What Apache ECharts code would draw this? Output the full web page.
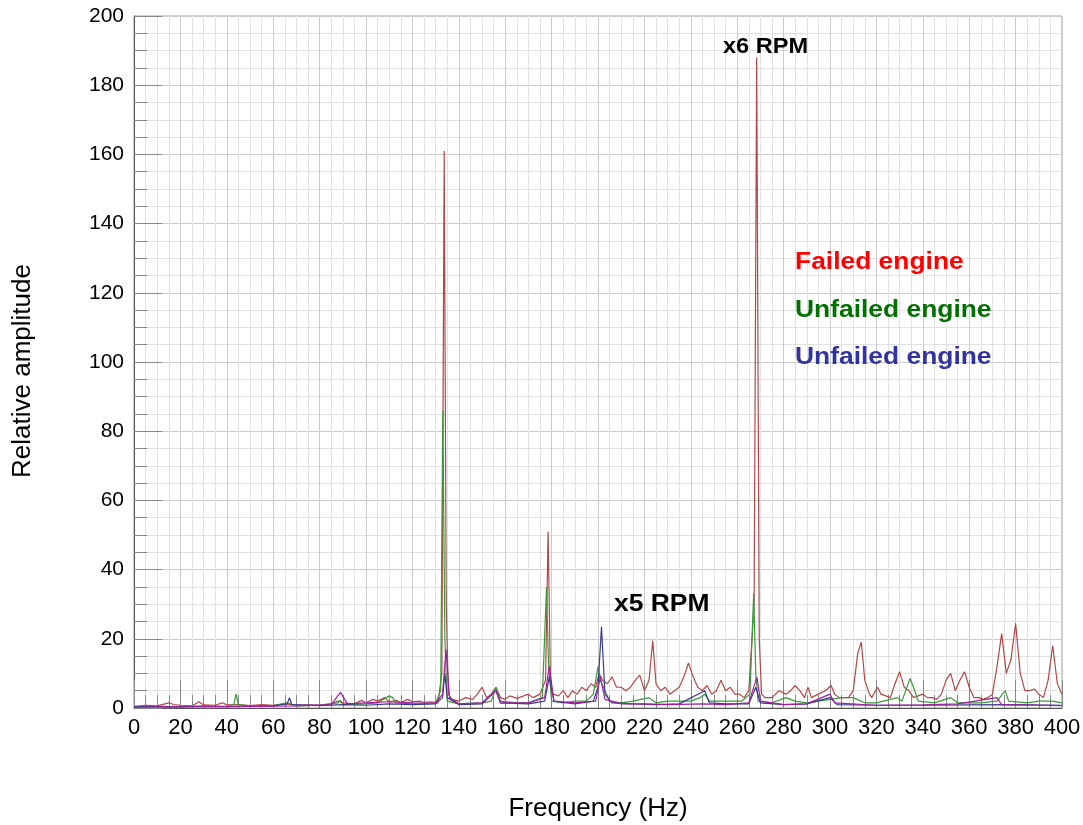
<!DOCTYPE html>
<html>
<head>
<meta charset="utf-8">
<script src="https://cdn.jsdelivr.net/npm/echarts@6/dist/echarts.min.js"></script>
<style>
  html, body { margin: 0; padding: 0; background: #fff; }
  #main { width: 1083px; height: 825px; }
</style>
</head>
<body>
<div id="main"></div>
<script>
// spectrum points: [frequency Hz, relative amplitude]
var failedEngine = [
  [0,0.5],[5,0.8],[10,0.6],[15,1.5],[17,1.0],[20,0.8],[25,0.6],[28,1.8],[30,0.9],[35,0.8],[38,1.5],[40,0.9],
  [45,1.0],[50,0.7],[55,1.0],[60,0.8],[65,1.2],[70,0.8],[75,0.9],[80,0.8],[85,1.3],[88,2.0],[90,1.5],[95,1.2],
  [98,2.2],[100,1.5],[103,2.5],[105,2.0],[108,3.0],[110,1.8],[113,2.2],[115,1.6],[118,2.5],[120,1.8],[123,2.0],
  [125,1.6],[128,1.8],[131,1.5],[132.7,10],[133.7,161],[134.6,30],[135.5,4],[137,2.5],[140,2],[143,3],[146,2.5],
  [148,4],[150,6],[152,3],[154,4],[156,6],[158,3],[160,2.5],[162,3.5],[165,2.8],[168,3.5],[170,4],[172,3],
  [175,4],[177.4,8],[178.5,51],[179.5,8],[180.5,4],[183,3.5],[185,5],[187,3],[189,5],[191,4],[193,6],[195,5],
  [197,7],[199,6],[200.5,10],[202,8],[204,7],[206,9],[208,6],[210,6],[212,5],[214,6],[216,8],[218,9.5],[220,5],
  [222,8],[223.6,19.5],[225,7],[227,5],[229,6],[231,4],[233,5],[235,6],[237,9],[239,13],[241,9],[243,6],[245,5],
  [247,6.5],[249,4],[251,5],[253,8],[255,5],[257,6],[259,4],[261,4],[263,3],[265,5],[267.3,30],[268.4,188],
  [269.5,20],[270.5,4],[272,3],[275,3],[278,5],[281,4],[283,5],[285,6.5],[287,5],[289,3],[290.5,6],[292,3],[295,4],
  [298,5],[300.5,6.5],[302,4],[304,3],[306,3],[308,3],[310,5],[312,16],[313.5,19],[315,8],[317,4],[318,3],
  [320.5,6],[322,4],[324,3.5],[326,3],[328,7],[330,10.5],[332,6],[334,5],[336,3],[338,3.5],[340,4],[342,3],
  [344,3],[346,2.5],[348,4],[350,8],[352,10],[354,5],[356,8],[358,10.5],[360,6],[362,3],[364,3],[366,2.5],
  [368,3],[370,4],[372,12],[374,21.5],[376,10],[378,14],[380,24.5],[382,10],[384,5],[386,5],[388,5.5],[390,4],
  [392,3],[394,8],[396,18],[398,7],[400,4]
];
var unfailedEngineA = [
  [0,0.4],[10,0.5],[20,0.4],[30,0.6],[40,0.5],[43,1.0],[44,4],[45,1.0],[50,0.6],[60,0.7],[66,1.5],[70,0.6],
  [80,0.8],[88,1.5],[89,2.2],[90,1.0],[100,1.2],[105,1.5],[110,3.5],[111.5,3],[113,1.5],[120,1.2],[130,1.3],
  [132.2,5],[133.1,86],[134,20],[135,2],[140,1.2],[150,1.5],[154,2],[156,6],[158,2],[165,1.5],[170,1.5],[176,3],
  [177.8,35],[178.7,12],[180,2],[185,1.5],[190,2],[195,2],[198,4],[200,12],[201,8],[203,5],[205,2],[210,1.5],
  [215,2],[222,3],[225,1.5],[230,2],[240,2],[244,3],[246,4],[248,2],[255,2],[262,2],[265.5,4],[267.1,33],
  [268,10],[269,2],[275,1.5],[281,3],[285,2],[290,1.5],[300,2.5],[305,3],[310,3],[315,1.5],[320,1.5],
  [329,3],[331,2],[334.5,8.5],[336,6],[338,2],[345,1.5],[352,3],[355,1.5],[365,1.5],[372,2],[375.5,5],
  [377,2],[385,1.5],[390,2],[396,2],[400,1.5]
];
var unfailedEngineB = [
  [0,0.3],[10,0.4],[20,0.3],[30,0.5],[40,0.4],[50,0.5],[60,0.6],[66,1.2],[67,3],[68,1.0],[80,0.7],[90,1.0],
  [100,0.8],[110,1.2],[120,1.0],[130,1.2],[133,3],[134,10],[135,3],[140,1.0],[150,1.2],[156,5],[158,1.5],
  [170,1.2],[177,2],[179,9],[181,2],[190,1.2],[198,2],[200,6],[201.5,23.5],[203,4],[206,1.5],[215,1.2],
  [225,1.0],[235,1.2],[246,5],[248,1.5],[255,1.2],[265,1.2],[268,6],[270,1.5],[280,1.0],[290,1.2],[300,3],
  [303,1.0],[320,0.8],[340,0.8],[360,0.9],[380,1.0],[400,0.8]
];
var unfailedEngineC = [
  [0,0.2],[10,0.3],[20,0.3],[40,0.4],[60,0.5],[70,0.6],[85,1.0],[89,4.5],[92,1.2],[100,1.5],[110,1.8],
  [120,1.5],[130,1.4],[133,4],[134.5,17],[136,3],[140,1.2],[150,1.5],[156,5],[158,1.5],[170,1.5],[177,3],
  [179,12],[181,2],[190,1.5],[199,2],[201,9],[203,2.5],[210,1.2],[220,1.2],[230,1.0],[245,1.2],[255,1.0],
  [265,1.5],[268.5,9],[270,2],[280,1.0],[290,1.2],[300,4],[302,1.5],[320,0.8],[340,0.9],[355,1.2],[372,3],
  [374,1.0],[390,0.8],[400,0.7]
];
var xTicks = { min: 0, max: 400, step: 20 };
var yTicks = { min: 0, max: 200, step: 20 };

var chart = echarts.init(document.getElementById('main'));

function lineSeries(name, data, color) {
  return {
    name: name,
    type: 'line',
    data: data,
    symbol: 'none',
    smooth: false,
    lineStyle: { color: color, width: 1.2 },
    animation: false
  };
}

function note(x, y, text, size, color, sx) {
  return {
    type: 'text', left: x, top: y, z: 100, scaleX: sx,
    style: { text: text, fontFamily: 'Liberation Sans', fontWeight: 'bold', fontSize: size, fill: color }
  };
}

var option = {
  backgroundColor: '#fff',
  grid: {
    left: 134, right: 21, top: 16, bottom: 117,
    outerBoundsMode: 'none',
    show: true, borderColor: '#a0a0a0', borderWidth: 1
  },
  xAxis: {
    type: 'value',
    min: xTicks.min, max: xTicks.max, interval: xTicks.step,
    name: 'Frequency (Hz)',
    nameLocation: 'middle',
    nameGap: 88,
    nameTextStyle: { fontFamily: 'Liberation Sans', fontSize: 26, color: '#000' },
    axisLine: { lineStyle: { color: '#555' } },
    axisTick: { inside: true, length: 28, lineStyle: { color: '#888' } },
    minorTick: { show: true, splitNumber: 4, length: 13, lineStyle: { color: '#888' } },
    axisLabel: { fontFamily: 'Liberation Sans', fontSize: 22, color: '#000', margin: 9 },
    splitLine: { show: true, lineStyle: { color: '#cbcbcb', width: 1 } },
    minorSplitLine: { show: true, lineStyle: { color: '#e2e2e2', width: 1 } }
  },
  yAxis: {
    type: 'value',
    min: yTicks.min, max: yTicks.max, interval: yTicks.step,
    name: 'Relative amplitude',
    nameLocation: 'middle',
    nameGap: 98,
    nameTextStyle: { fontFamily: 'Liberation Sans', fontSize: 26, color: '#000', padding: [0, 18, 0, 0] },
    axisLine: { show: true, lineStyle: { color: '#555' } },
    axisTick: { inside: true, length: 28, lineStyle: { color: '#888' } },
    minorTick: { show: true, splitNumber: 4, length: 13, lineStyle: { color: '#888' } },
    axisLabel: { fontFamily: 'Liberation Sans', fontSize: 21, color: '#000', margin: 10 },
    splitLine: { show: true, lineStyle: { color: '#cbcbcb', width: 1 } },
    minorSplitLine: { show: true, lineStyle: { color: '#e2e2e2', width: 1 } }
  },
  series: [
    lineSeries('Failed engine', failedEngine, '#b04848'),
    lineSeries('Unfailed engine', unfailedEngineA, '#3a9a3a'),
    lineSeries('Unfailed engine B', unfailedEngineB, '#3c3c8c'),
    lineSeries('Unfailed engine C', unfailedEngineC, '#a020a0')
  ],
  graphic: [
    note(723, 36, 'x6 RPM', 22, '#000', 1.07),
    note(614, 593, 'x5 RPM', 23, '#000', 1.15),
    note(795, 250, 'Failed engine', 24, '#ff0000', 1.1),
    note(795, 298, 'Unfailed engine', 24, '#007000', 1.1),
    note(795, 345, 'Unfailed engine', 24, '#3333a0', 1.1)
  ]
};

chart.setOption(option);
</script>
</body>
</html>
